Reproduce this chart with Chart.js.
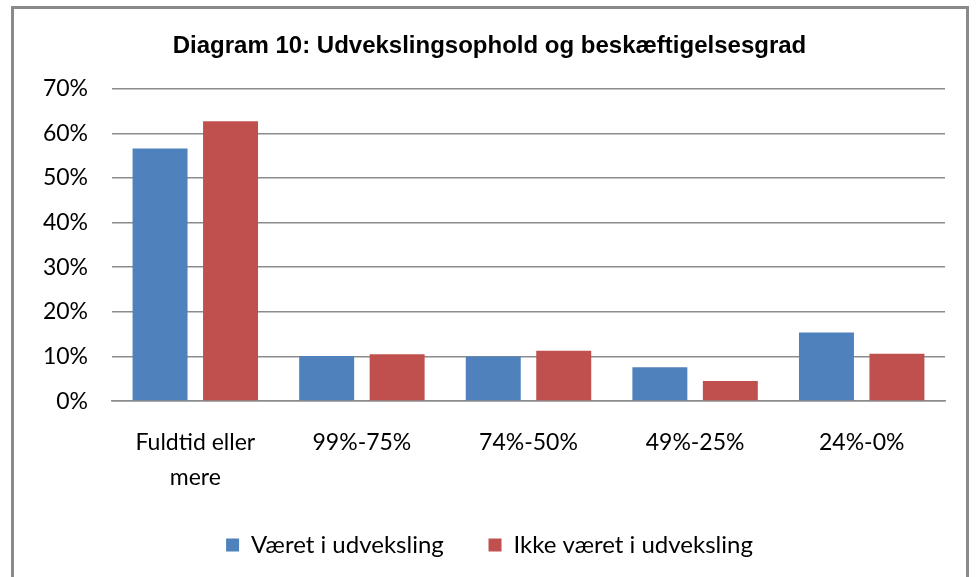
<!DOCTYPE html>
<html>
<head>
<meta charset="utf-8">
<script src="https://cdn.jsdelivr.net/npm/chart.js@4.4.0/dist/chart.umd.min.js"></script>
<style>
  html, body { margin: 0; padding: 0; background: #fff; }
  #frame {
    position: absolute; left: 11px; top: 6px; width: 958px; height: 600px;
    border: 3px solid #8a8a8a; box-sizing: border-box;
  }
  #wrap { position: absolute; left: 0; top: 0; width: 979px; height: 577px; }
</style>
</head>
<body>
<div id="frame"></div>
<div id="wrap"><canvas id="myChart" width="979" height="577"></canvas></div>
<script>
var ctx = document.getElementById('myChart');

const categories = [['Fuldtid eller', 'mere'], '99%-75%', '74%-50%', '49%-25%', '24%-0%'];
const exchangeValues = [56.6, 10.1, 10.0, 7.6, 15.4];
const noExchangeValues = [62.7, 10.5, 11.3, 4.5, 10.6];
const seriesNames = ['Været i udveksling', 'Ikke været i udveksling'];
const yTicks = [0, 10, 20, 30, 40, 50, 60, 70];

const labelFont = "Lato, 'Open Sans', sans-serif";

var myChart = new Chart(ctx, {
  type: 'bar',
  data: {
    labels: categories,
    datasets: [{
      label: seriesNames[0],
      data: exchangeValues,
      backgroundColor: '#4F81BD',
      categoryPercentage: 0.846,
      barPercentage: 0.78
    }, {
      label: seriesNames[1],
      data: noExchangeValues,
      backgroundColor: '#C0504D',
      categoryPercentage: 0.846,
      barPercentage: 0.78
    }]
  },
  options: {
    responsive: false,
    animation: false,
    layout: { padding: { left: 0, right: 0, top: 12, bottom: 10 } },
    plugins: {
      title: {
        display: true,
        text: 'Diagram 10: Udvekslingsophold og beskæftigelsesgrad',
        color: '#000',
        font: { family: "'Liberation Sans', Arial, sans-serif", size: 24, weight: 'bold', lineHeight: 1.2 },
        padding: { top: 20, bottom: 28 }
      },
      legend: {
        position: 'bottom',
        labels: {
          color: '#000',
          font: { family: labelFont, size: 24 },
          boxWidth: 13,
          boxHeight: 13,
          padding: 14,
          generateLabels: function (chart) {
            const items = Chart.defaults.plugins.legend.labels.generateLabels(chart);
            // wider gap between the two entries, like the original
            items[0].text = items[0].text + '\u00a0\u00a0\u00a0\u00a0\u00a0';
            return items;
          }
        }
      },
      tooltip: { enabled: false }
    },
    scales: {
      x: {
        grid: { display: false, drawTicks: false },
        border: { display: true, color: '#8c8c8c', width: 1.5 },
        ticks: {
          color: '#000',
          padding: 24,
          maxRotation: 0,
          font: { family: labelFont, size: 23, lineHeight: 1.52 }
        }
      },
      y: {
        min: 0,
        max: 70,
        afterBuildTicks: function (scale) { scale.ticks = yTicks.map(v => ({ value: v })); },
        grid: { color: '#8c8c8c', lineWidth: 1.5, drawTicks: false },
        border: { display: false },
        ticks: {
          color: '#000',
          padding: 24,
          font: { family: labelFont, size: 23 },
          callback: function (v) { return v + '%'; }
        },
        afterFit: function (scale) { scale.width = 112; }
      },
      yRight: {
        position: 'right',
        grid: { display: false, drawTicks: false },
        border: { display: false },
        ticks: { display: false },
        afterFit: function (scale) { scale.width = 34; }
      }
    }
  }
});
</script>
</body>
</html>
